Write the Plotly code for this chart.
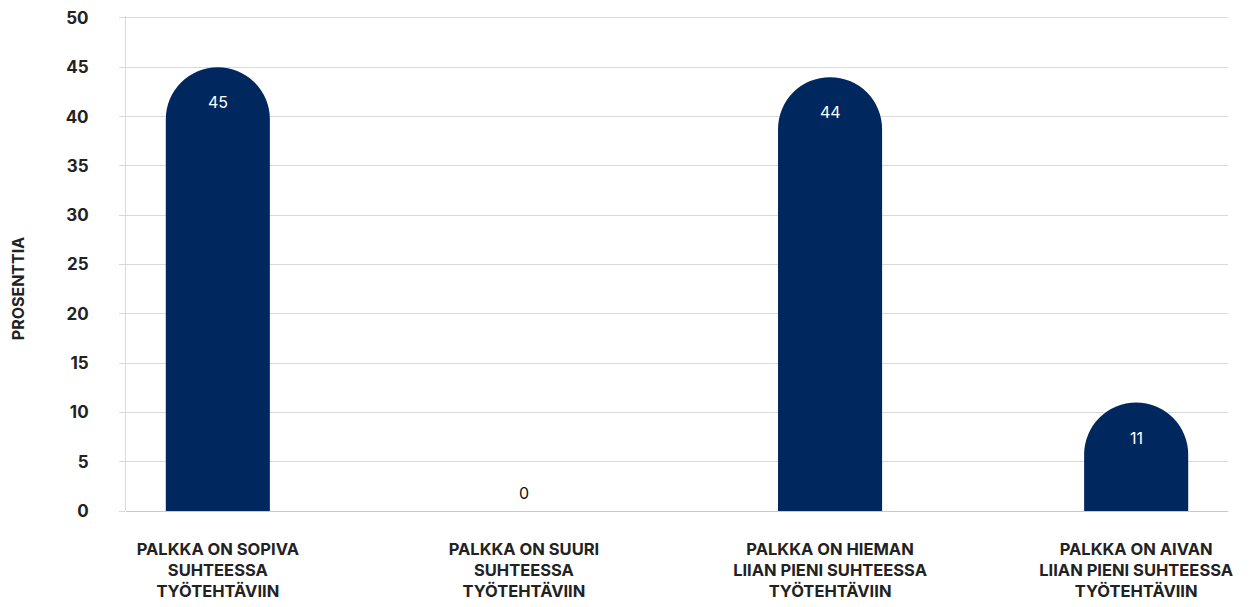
import plotly.graph_objects as go

categories = [
    "PALKKA ON SOPIVA<br>SUHTEESSA<br>TYÖTEHTÄVIIN",
    "PALKKA ON SUURI<br>SUHTEESSA<br>TYÖTEHTÄVIIN",
    "PALKKA ON HIEMAN<br>LIIAN PIENI SUHTEESSA<br>TYÖTEHTÄVIIN",
    "PALKKA ON AIVAN<br>LIIAN PIENI SUHTEESSA<br>TYÖTEHTÄVIIN",
]
values = [45, 0, 44, 11]
y_ticks = [0, 5, 10, 15, 20, 25, 30, 35, 40, 45, 50]
y_title = "PROSENTTIA"

FONT = "Inter"
NAVY = "#00285F"
GRID = "#d9d9d9"
x_pos = list(range(len(categories)))

fig = go.Figure()
fig.add_trace(go.Bar(
    x=x_pos,
    y=values,
    width=0.34,
    marker=dict(color=NAVY, line=dict(width=0)),
    hoverinfo="skip",
))

annotations = []
for xi, v in zip(x_pos, values):
    if v > 0:
        annotations.append(dict(
            x=xi, y=v, xref="x", yref="y", text=str(v), showarrow=False,
            yanchor="middle", yshift=-35,
            font=dict(family=FONT, size=16, color="white"),
        ))
    else:
        annotations.append(dict(
            x=xi, y=v, xref="x", yref="y", text=str(v), showarrow=False,
            yanchor="middle", yshift=18,
            font=dict(family=FONT, size=16, color="#111111"),
        ))

annotations.append(dict(
    text=f"<b>{y_title}</b>",
    xref="paper", yref="paper",
    x=0, xanchor="center", xshift=-108,
    y=0.448, yanchor="middle",
    textangle=-90, showarrow=False,
    font=dict(family=FONT, size=16, color="#222222"),
))

fig.update_layout(
    width=1255, height=607,
    margin=dict(l=118, r=35, t=8, b=104),
    paper_bgcolor="white", plot_bgcolor="white",
    barcornerradius="50%",
    showlegend=False,
    font=dict(family=FONT, color="#222222"),
    xaxis=dict(
        range=[-0.3, 3.3],
        tickmode="array",
        tickvals=x_pos,
        ticktext=[f"<b>{c}</b>" for c in categories],
        tickfont=dict(family=FONT, size=16.5, color="#222222"),
        showgrid=False, zeroline=False,
        showline=False,
        ticks="", ticklabelstandoff=26,
        automargin=False,
        fixedrange=True,
    ),
    yaxis=dict(
        range=[0, 50.2],
        tickmode="array",
        tickvals=y_ticks,
        ticktext=[f"<b>{t}</b>" for t in y_ticks],
        tickfont=dict(family=FONT, size=17, color="#222222"),
        ticklabeloverflow="allow",
        automargin=False,
        showgrid=True, gridcolor=GRID, gridwidth=1,
        zeroline=True, zerolinecolor="#c8c8c8", zerolinewidth=1,
        showline=True, linecolor=GRID, linewidth=1,
        ticks="outside", ticklen=6, tickcolor=GRID,
        ticklabelstandoff=27,
        fixedrange=True,
    ),
    annotations=annotations,
)

fig.write_html("out.html")
